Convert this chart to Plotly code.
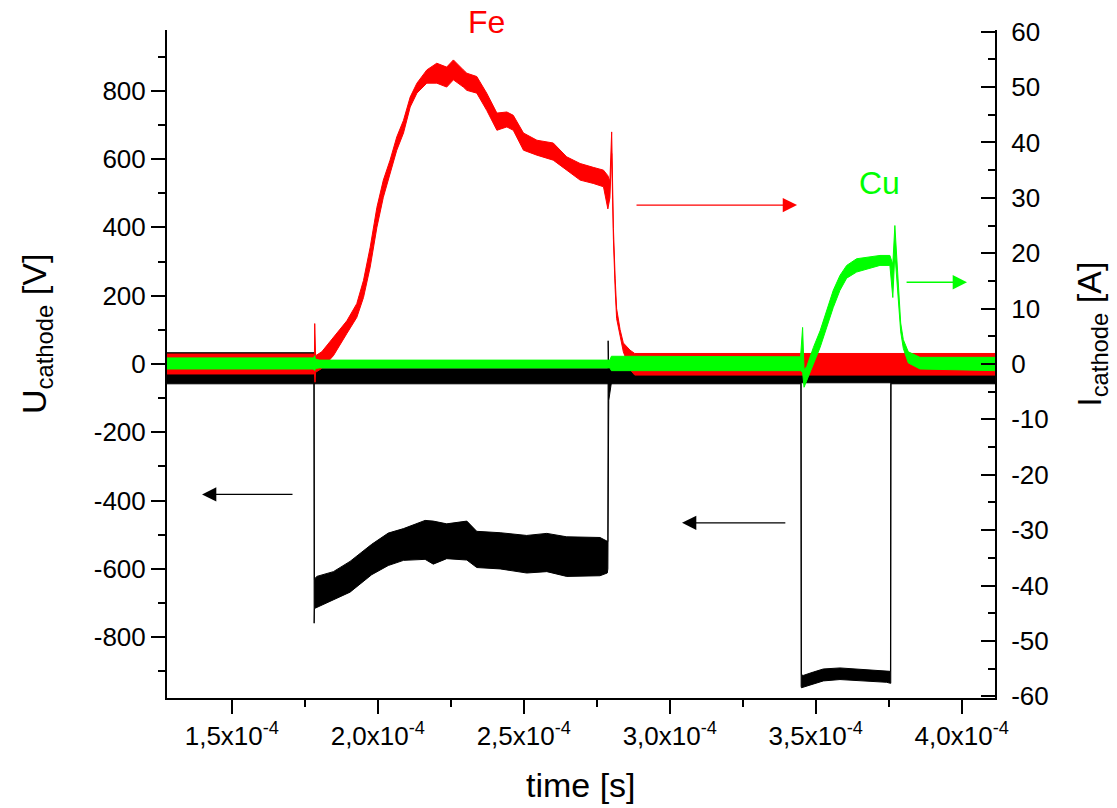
import plotly.graph_objects as go

# ---- data (time in units of 1e-4 s) ----
# Fe cathode current (right axis, A): noise band lower/upper envelope
fe_i_t = [1.278, 1.780, 1.783, 1.784, 1.785, 1.787, 1.808, 1.848, 1.894, 1.928, 1.951, 1.974, 1.997, 2.019,
          2.042, 2.065, 2.088, 2.111, 2.134, 2.168, 2.202, 2.236, 2.259, 2.293, 2.305, 2.339, 2.373, 2.408,
          2.442, 2.464, 2.499, 2.545, 2.601, 2.647, 2.693, 2.738, 2.773, 2.788, 2.795, 2.801, 2.807, 2.813,
          2.818, 2.830, 2.841, 2.864, 2.880, 4.114]
fe_i_hi = [1.8, 1.8, 1.8, 7.3, 1.8, 1.5, 2.2, 4.8, 7.8, 10.9, 15.1, 21.1, 28.3, 33.2, 36.8, 41.0, 44.0, 48.2,
           50.7, 53.1, 54.3, 53.6, 54.9, 53.1, 52.5, 51.9, 48.9, 45.3, 45.5, 44.9, 41.7, 40.4, 39.9, 37.4,
           36.2, 35.5, 35.0, 34.0, 33.0, 41.9, 24.5, 15.5, 10.0, 6.2, 3.8, 2.5, 1.9, 1.9]
fe_i_lo = [-1.8, -1.8, -1.8, -1.8, -3.3, -1.5, -0.8, 1.5, 5.5, 8.4, 12.0, 17.5, 24.7, 30.1, 34.4, 38.6, 41.7,
           46.4, 48.9, 50.7, 50.7, 50.0, 51.3, 50.0, 49.4, 48.9, 45.8, 42.2, 42.8, 42.2, 38.6, 37.7, 36.8,
           35.0, 33.2, 32.6, 32.0, 28.0, 30.0, 38.0, 22.5, 13.5, 8.2, 4.8, 2.2, -1.0, -2.0, -2.0]

# Cu cathode current (right axis, A)
cu_i_t = [1.278, 1.780, 1.784, 1.786, 1.80, 2.795, 2.800, 3.448, 3.455, 3.460, 3.469, 3.492, 3.515, 3.538,
          3.560, 3.583, 3.606, 3.640, 3.675, 3.720, 3.754, 3.764, 3.771, 3.783, 3.791, 3.800, 3.817, 3.857, 4.114]
cu_i_hi = [1.1, 1.1, 1.5, 0.9, 0.7, 0.7, 1.4, 1.3, 6.6, -1.0, -0.5, 3.0, 6.0, 9.6, 13.3, 16.0, 17.8, 19.0,
           19.3, 19.6, 19.6, 18.0, 25.0, 13.5, 7.4, 4.4, 2.2, 1.2, 1.2]
cu_i_lo = [-0.9, -0.9, -1.2, -0.8, -0.7, -0.7, -1.2, -1.2, -1.5, -4.2, -3.0, 0.0, 3.0, 6.6, 10.2, 13.3, 15.5,
           16.6, 17.2, 17.8, 17.8, 12.0, 20.0, 11.9, 5.8, 2.8, 0.2, -0.9, -1.2]

# Fe cathode voltage (left axis, V)
fe_u_t = [1.278, 1.781, 1.782, 1.783, 1.791, 1.848, 1.905, 1.979, 2.036, 2.088, 2.162, 2.190, 2.236, 2.305,
          2.339, 2.419, 2.510, 2.579, 2.647, 2.761, 2.786, 2.788, 2.789, 2.791, 2.80, 4.114]
fe_u_hi = [33, 33, 33, -630, -622, -608, -578, -528, -495, -482, -458, -460, -468, -460, -490, -494, -502,
           -496, -506, -508, -518, -520, 68, -14, -12, -14]
fe_u_lo = [-20, -20, -759, -716, -712, -690, -668, -617, -590, -575, -572, -586, -570, -574, -596, -600,
           -612, -608, -622, -620, -612, -600, -600, -107, -55, -55]

# Cu cathode voltage (left axis, V)
cu_u_t = [1.278, 3.449, 3.450, 3.451, 3.457, 3.492, 3.526, 3.583, 3.663, 3.743, 3.756, 3.757, 3.758, 4.114]
cu_u_hi = [-14, -14, -14, -910, -912, -902, -893, -890, -895, -900, -900, -14, -14, -14]
cu_u_lo = [-58, -58, -944, -948, -945, -937, -928, -924, -928, -932, -935, -935, -58, -58]

x_tick_vals = [1.5, 2.0, 2.5, 3.0, 3.5, 4.0]
x_tick_text = ["1,5x10<sup>-4</sup>", "2,0x10<sup>-4</sup>", "2,5x10<sup>-4</sup>",
               "3,0x10<sup>-4</sup>", "3,5x10<sup>-4</sup>", "4,0x10<sup>-4</sup>"]
x_minor_vals = [1.75, 2.25, 2.75, 3.25, 3.75]
u_tick_vals = [-800, -600, -400, -200, 0, 200, 400, 600, 800]
u_minor_vals = [-900, -700, -500, -300, -100, 100, 300, 500, 700, 900]
i_tick_vals = [-60, -50, -40, -30, -20, -10, 0, 10, 20, 30, 40, 50, 60]
i_minor_vals = [-55, -45, -35, -25, -15, -5, 5, 15, 25, 35, 45, 55]

SCALE = 1e-4
FONT = "Arial, 'Liberation Sans', sans-serif"
RED = "#ff0000"
GREEN = "#00ff00"


def band(t, lo, hi, color, yaxis):
    xs = [v * SCALE for v in t] + [v * SCALE for v in t[::-1]]
    ys = list(hi) + list(lo[::-1])
    return go.Scatter(x=xs, y=ys, fill="toself", fillcolor=color, mode="lines",
                      line=dict(color=color, width=1), yaxis=yaxis, hoverinfo="skip",
                      showlegend=False)


fig = go.Figure()
fig.add_trace(band(fe_u_t, fe_u_lo, fe_u_hi, "#000000", "y"))
fig.add_trace(band(cu_u_t, cu_u_lo, cu_u_hi, "#000000", "y"))
fig.add_trace(band(fe_i_t, fe_i_lo, fe_i_hi, RED, "y2"))
fig.add_trace(band(cu_i_t, cu_i_lo, cu_i_hi, GREEN, "y2"))

axis_common = dict(showline=True, linewidth=2, linecolor="black", showgrid=False, zeroline=False,
                   tickwidth=2, tickcolor="black", ticklen=14, automargin=False,
                   tickfont=dict(family=FONT, size=26, color="black"))

fig.update_layout(
    width=1117, height=808,
    margin=dict(l=167, r=122, t=30, b=110),
    paper_bgcolor="white", plot_bgcolor="white",
    showlegend=False,
    hovermode=False,
    xaxis=dict(range=[1.278 * SCALE, 4.114 * SCALE], ticks="outside",
               tickvals=[v * SCALE for v in x_tick_vals], ticktext=x_tick_text,
               minor=dict(tickvals=[v * SCALE for v in x_minor_vals], ticks="outside", ticklen=7,
                          tickwidth=2, tickcolor="black"),
               **axis_common),
    yaxis=dict(range=[-978, 978], ticks="outside",
               tickvals=u_tick_vals, ticktext=[str(v) for v in u_tick_vals],
               minor=dict(tickvals=u_minor_vals, ticks="outside", ticklen=7, tickwidth=2,
                          tickcolor="black"),
               **axis_common),
    yaxis2=dict(range=[-60.3, 60.3], overlaying="y", side="right", ticks="inside",
                tickvals=i_tick_vals, ticktext=[str(v) for v in i_tick_vals],
                ticklabelstandoff=9,
                minor=dict(tickvals=i_minor_vals, ticks="inside", ticklen=7, tickwidth=2,
                           tickcolor="black"),
                **axis_common),
)

title_font = dict(family=FONT, size=34, color="black")
annotations = [
    dict(text="U<sub>cathode</sub> [V]", xref="paper", yref="paper", x=-0.157, y=0.545,
         xanchor="center", yanchor="middle", textangle=-90, showarrow=False, font=title_font),
    dict(text="I<sub>cathode</sub> [A]", xref="paper", yref="paper", x=1.117, y=0.545,
         xanchor="center", yanchor="middle", textangle=-90, showarrow=False, font=title_font),
    dict(text="time [s]", xref="paper", yref="paper", x=0.5, y=-0.13,
         xanchor="center", yanchor="middle", showarrow=False, font=title_font),
    dict(text="Fe", xref="x", yref="paper", x=2.371 * SCALE, y=1.012, xanchor="center", yanchor="middle",
         showarrow=False, font=dict(family=FONT, size=32, color=RED)),
    dict(text="Cu", xref="x", yref="y2", x=3.717 * SCALE, y=32.6, xanchor="center", yanchor="middle",
         showarrow=False, font=dict(family=FONT, size=32, color=GREEN)),
    # arrows
    dict(x=1.398 * SCALE, y=-382, xref="x", yref="y", ax=1.713 * SCALE, ay=-382, axref="x", ayref="y",
         showarrow=True, arrowhead=2, arrowsize=2.2, arrowwidth=1.3, arrowcolor="black", text=""),
    dict(x=3.042 * SCALE, y=-465, xref="x", yref="y", ax=3.401 * SCALE, ay=-465, axref="x", ayref="y",
         showarrow=True, arrowhead=2, arrowsize=2.2, arrowwidth=1.3, arrowcolor="black", text=""),
    dict(x=3.436 * SCALE, y=28.7, xref="x", yref="y2", ax=2.881 * SCALE, ay=28.7, axref="x", ayref="y2",
         showarrow=True, arrowhead=2, arrowsize=2.2, arrowwidth=1.3, arrowcolor=RED, text=""),
    dict(x=4.018 * SCALE, y=14.76, xref="x", yref="y2", ax=3.806 * SCALE, ay=14.76, axref="x", ayref="y2",
         showarrow=True, arrowhead=2, arrowsize=2.2, arrowwidth=1.3, arrowcolor=GREEN, text=""),
]
fig.update_layout(annotations=annotations)

fig.write_html("out.html", config={"displayModeBar": False},
               post_script="document.body.style.margin='0px';")
